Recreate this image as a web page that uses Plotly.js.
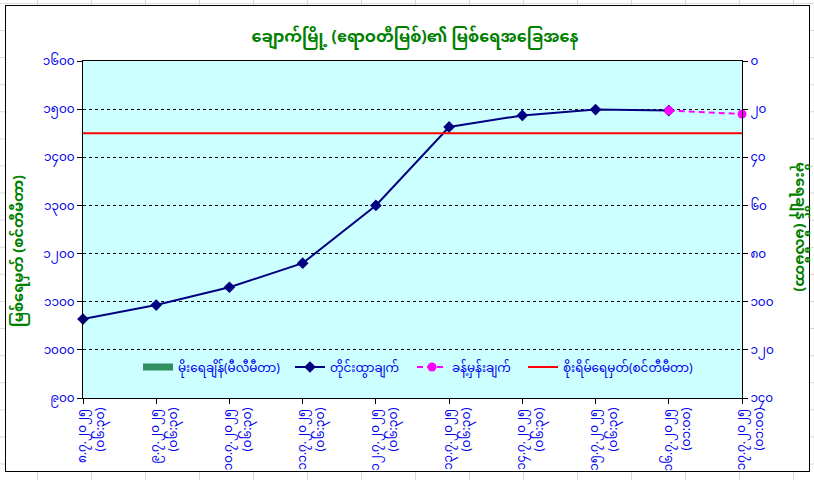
<!DOCTYPE html>
<html>
<head>
<meta charset="utf-8">
<script src="https://cdn.plot.ly/plotly-3.0.1.min.js"></script>
<style>
  html, body { margin: 0; padding: 0; }
  body {
    width: 814px; height: 480px; overflow: hidden; position: relative;
    background-color: #ffffff;
    background-image:
      repeating-linear-gradient(to right, transparent 0, transparent 37px, #d9d9d9 37px, #d9d9d9 38px, transparent 38px, transparent 54px),
      repeating-linear-gradient(to bottom, transparent 0, transparent 3px, #d9d9d9 3px, #d9d9d9 4px, transparent 4px, transparent 27.1px);
    background-size: 54px 100%, 100% 27.1px;
  }
  #box {
    position: absolute; left: 5px; top: 5px; width: 803px; height: 465px;
    border: 1px solid #000; background: #fff;
  }
  #chart { position: absolute; left: 0; top: 0; width: 814px; height: 480px; }
</style>
</head>
<body>
<div id="box"></div>
<div id="chart"></div>
<script>
// ---- data ----
var dates = ['၈.၇.၂၀၂၅', '၉.၇.၂၀၂၅', '၁၀.၇.၂၀၂၅', '၁၁.၇.၂၀၂၅', '၁၂.၇.၂၀၂၅',
             '၁၃.၇.၂၀၂၅', '၁၄.၇.၂၀၂၅', '၁၅.၇.၂၀၂၅', '၁၆.၇.၂၀၂၅', '၁၇.၇.၂၀၂၅'];
var times = ['(၀၆:၃၀)', '(၀၆:၃၀)', '(၀၆:၃၀)', '(၀၆:၃၀)', '(၀၆:၃၀)',
             '(၀၆:၃၀)', '(၀၆:၃၀)', '(၀၆:၃၀)', '(၀၁:၀၀)', '(၀၁:၀၀)'];
var rainfall = [0, 0, 0, 0, 0, 0, 0, 0, 0, 0];
var measured = [1064, 1093, 1130, 1180, 1300, 1463, 1487, 1499, 1497, null];
var forecast = [null, null, null, null, null, null, null, null, 1497, 1490];
var dangerLevel = [1450, 1450, 1450, 1450, 1450, 1450, 1450, 1450, 1450, 1450];

var leftTickVals = [900, 1000, 1100, 1200, 1300, 1400, 1500, 1600];
var leftTickText = ['၉၀၀', '၁၀၀၀', '၁၁၀၀', '၁၂၀၀', '၁၃၀၀', '၁၄၀၀', '၁၅၀၀', '၁၆၀၀'];
var rightTickVals = [0, 20, 40, 60, 80, 100, 120, 140];
var rightTickText = ['၀', '၂၀', '၄၀', '၆၀', '၈၀', '၁၀၀', '၁၂၀', '၁၄၀'];

var names = ['မိုးရေချိန်(မီလီမီတာ)', 'တိုင်းထွာချက်', 'ခန့်မှန်းချက်', 'စိုးရိမ်ရေမှတ်(စင်တီမီတာ)'];
var titleText = 'ချောက်မြို့ (ဧရာဝတီမြစ်)၏ မြစ်ရေအခြေအနေ';
var leftTitle = 'မြစ်ရေမှတ် (စင်တီမီတာ)';
var rightTitle = 'မိုးရေချိန် (မီလီမီတာ)';

// ---- chart ----
var MY = '"Noto Sans Myanmar", "Noto Sans Myanmar UI", Padauk, "Myanmar Text", "Noto Sans", sans-serif';
var BLUE = '#0000ee';
var GREEN = '#008000';
var L = 83, R = 742, T = 61, B = 398;
function px(x) { return (x - L) / (R - L); }
function py(y) { return (B - y) / (B - T); }
var idx = dates.map(function (d, i) { return i; });

var traces = [
  { type: 'bar', x: dates, y: rainfall, yaxis: 'y2', name: names[0], showlegend: false,
    marker: { color: '#339966', line: { width: 0 } } },
  // legend key for the rainfall bars (wide green block like the original key); also carries the time axis
  { type: 'scatter', mode: 'lines', x: idx, y: rainfall.map(function () { return null; }), xaxis: 'x2', yaxis: 'y2',
    name: names[0], legend: 'legend', line: { color: '#2f8f5f', width: 7 } },
  { type: 'scatter', mode: 'lines+markers', x: dates, y: measured, name: names[1], legend: 'legend2',
    line: { color: '#000080', width: 2 }, marker: { symbol: 'diamond', size: 9, color: '#000080' },
    cliponaxis: false },
  { type: 'scatter', mode: 'lines+markers', x: dates, y: forecast, name: names[2], legend: 'legend3',
    line: { color: '#ff00ff', width: 2, dash: '6px,4px' }, marker: { symbol: 'circle', size: 9, color: '#ff00ff' },
    cliponaxis: false },
  { type: 'scatter', mode: 'lines', x: dates, y: dangerLevel, name: names[3], legend: 'legend4',
    line: { color: '#ff0000', width: 2 } }
];

function legendAt(textStart) {
  return { orientation: 'h', x: px(textStart - 40), xanchor: 'left', y: py(367), yanchor: 'middle',
           bgcolor: 'rgba(0,0,0,0)', font: { family: MY, size: 12, color: BLUE }, itemwidth: 30 };
}

var layout = {
  width: 814, height: 480,
  margin: { l: L, r: 814 - R, t: T, b: 480 - B, pad: 0 },
  paper_bgcolor: 'rgba(0,0,0,0)',
  plot_bgcolor: '#ccffff',
  showlegend: true,
  font: { family: MY, color: BLUE, size: 12 },
  title: { text: '<b>' + titleText + '</b>', x: 415 / 814, xanchor: 'center', y: 1 - 36 / 480, yanchor: 'middle',
           font: { family: MY, size: 16, color: GREEN } },
  xaxis: { type: 'category', range: [0, 9], showgrid: false, showline: true, linecolor: '#000', linewidth: 1,
           mirror: true, ticks: 'outside', ticklen: 5, tickcolor: '#000', tickangle: -90, ticklabelshift: -1,
           tickfont: { family: MY, size: 12, color: BLUE }, zeroline: false },
  xaxis2: { type: 'linear', overlaying: 'x', anchor: 'y', side: 'bottom', range: [0, 9],
            tickmode: 'array', tickvals: idx, ticktext: times, ticks: '', showline: false, showgrid: false,
            zeroline: false, tickangle: -90, ticklabelshift: 17, ticklabelstandoff: 6,
            tickfont: { family: MY, size: 12.5, color: BLUE } },
  yaxis: { range: [900, 1600], tickvals: leftTickVals, ticktext: leftTickText, showgrid: true,
           gridcolor: '#000', griddash: 'dot', gridwidth: 1, showline: true, linecolor: '#000',
           ticks: 'outside', ticklen: 5, tickcolor: '#000', tickfont: { family: MY, size: 12, color: BLUE },
           zeroline: false },
  yaxis2: { overlaying: 'y', side: 'right', range: [140, 0], tickvals: rightTickVals, ticktext: rightTickText,
            showgrid: false, showline: true, linecolor: '#000', ticks: 'outside', ticklen: 5, tickcolor: '#000',
            tickfont: { family: MY, size: 12, color: BLUE }, zeroline: false },
  legend: legendAt(178),
  legend2: legendAt(330),
  legend3: legendAt(452),
  legend4: legendAt(563),
  annotations: [
    { text: '<b>' + leftTitle + '</b>', xref: 'paper', yref: 'paper', x: px(20), y: py(251),
      xanchor: 'center', yanchor: 'middle', textangle: -90, showarrow: false,
      font: { family: MY, size: 14.5, color: GREEN } },
    { text: '<b>' + rightTitle + '</b>', xref: 'paper', yref: 'paper', x: px(800), y: py(227),
      xanchor: 'center', yanchor: 'middle', textangle: 90, showarrow: false,
      font: { family: MY, size: 14.5, color: GREEN } }
  ],
  bargap: 0.5
};

Plotly.newPlot('chart', traces, layout, { staticPlot: true, displayModeBar: false });
</script>
</body>
</html>
